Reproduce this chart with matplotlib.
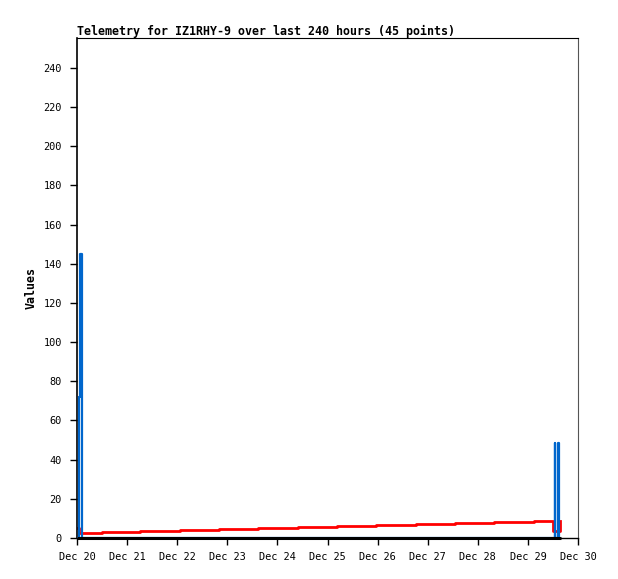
import matplotlib
matplotlib.use('Agg')
import matplotlib.pyplot as plt

# hours since Dec 20 00:00
red_t = [0, 1.0, 12.0, 30.2, 49.3, 68.0, 86.7, 105.9, 124.6, 143.2, 162.4,
         181.1, 199.8, 218.9, 228.0, 231.4, 231.6]
red_v = [5.0, 2.6, 3.1, 3.8, 4.2, 4.75, 5.1, 5.6, 6.1, 6.6, 7.3,
         7.8, 8.3, 8.8, 3.8, 8.8, 8.8]

blue_t = [0, 0.9, 1.5, 2.3, 2.5, 228.8, 229.2, 230.3, 230.6, 231.1]
blue_v = [0, 72, 145, 1.5, 0, 48.4, 0, 32, 48.4, 0]

black_t = [0, 232.0]
black_v = [0, 0]

day_ticks = [0, 24, 48, 72, 96, 120, 144, 168, 192, 216, 240]
day_labels = ["Dec 20", "Dec 21", "Dec 22", "Dec 23", "Dec 24", "Dec 25",
              "Dec 26", "Dec 27", "Dec 28", "Dec 29", "Dec 30"]
y_ticks = list(range(0, 241, 20))

plt.rcParams['font.family'] = 'DejaVu Sans Mono'

fig = plt.figure(figsize=(6.18, 5.79), dpi=100)
ax = fig.add_axes([77/618, 1-538/579, 501/618, 500/579])

ax.plot(red_t, red_v, color='#ff0000', lw=2.0, drawstyle='steps-post', zorder=2)
ax.plot(blue_t, blue_v, color='#0066cc', lw=1.6, drawstyle='steps-post', zorder=3)
ax.plot(black_t, black_v, color='black', lw=2.2, zorder=4, solid_capstyle='butt',
        clip_on=False)

ax.set_xlim(0, 240)
ax.set_ylim(0, 255.3)
ax.set_xticks(day_ticks)
ax.set_xticklabels(day_labels)
ax.set_yticks(y_ticks)
ax.tick_params(axis='both', direction='out', length=5, width=1, labelsize=7.4,
               colors='black')
ax.tick_params(axis='x', pad=5)
ax.tick_params(axis='y', pad=6)

ax.spines['left'].set_linewidth(1.2)
ax.spines['bottom'].set_linewidth(1.0)
ax.spines['top'].set_linewidth(0.8)
ax.spines['right'].set_linewidth(0.8)
ax.spines['right'].set_color('#555555')

ax.set_ylabel("Values", fontsize=8.4, fontweight='bold', labelpad=4)
ax.set_title("Telemetry for IZ1RHY-9 over last 240 hours (45 points)",
             loc='left', fontsize=8.4, fontweight='bold', pad=2)

fig.savefig('out.png', dpi=100)
